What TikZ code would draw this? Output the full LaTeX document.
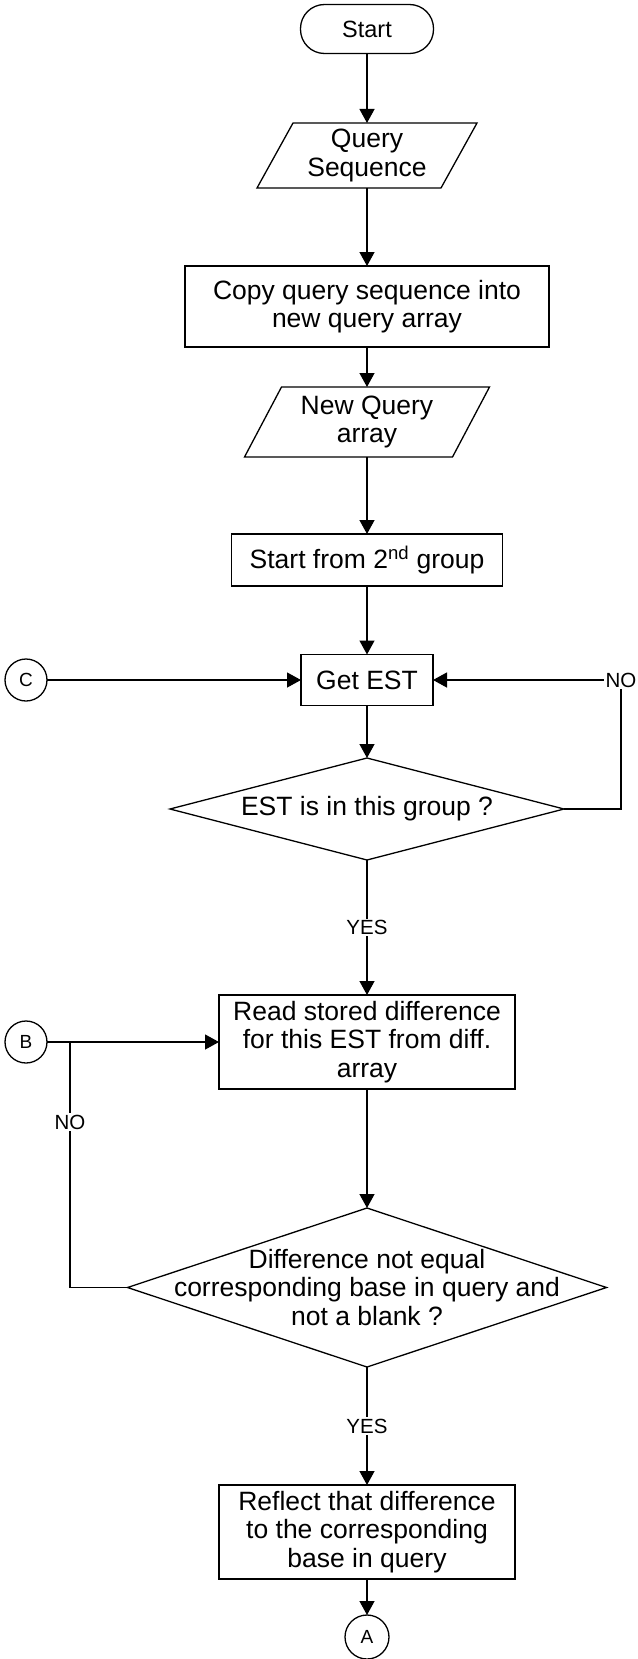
\documentclass[tikz,border=0pt]{standalone}
\usepackage{fontspec}
\setmainfont{Liberation Sans}
\usetikzlibrary{arrows.meta,shapes.geometric}
\begin{document}
\begin{tikzpicture}[x=1pt,y=-1pt,
  line width=1.3pt,
  every node/.style={inner sep=0pt, outer sep=0pt},
  txt/.style={font=\fontsize{26.5}{28.5}\selectfont, align=center},
  procbox/.style={txt, draw, rectangle},
  iobox/.style={txt, rectangle},
  term/.style={draw, rectangle, rounded corners=24pt, font=\fontsize{23.5}{26}\selectfont},
  decision/.style={draw, diamond},
  conn/.style={draw, circle, minimum size=42pt, font=\fontsize{19}{22}\selectfont},
  arr/.style={-{Triangle[length=14pt,width=15pt]}},
  lbl/.style={fill=white, font=\fontsize{20.5}{22}\selectfont, inner sep=1.5pt},
]
\useasboundingbox (0,0) rectangle (637,1659);

% main column
\node[term, minimum width=133pt, minimum height=49pt] (start) at (367,29) {Start};

\node[iobox, minimum width=220pt, minimum height=65pt] (qseq) at (367,155.5) {Query\\Sequence};
\draw ([xshift=36pt]qseq.north west) -- (qseq.north east)
  -- ([xshift=-36pt]qseq.south east) -- (qseq.south west) -- cycle;

\node[procbox, minimum width=364pt, minimum height=81pt] (copy) at (367,306.5)
  {Copy query sequence into\\new query array};

\node[iobox, minimum width=245pt, minimum height=70pt] (nq) at (367,422) {New Query\\array};
\draw ([xshift=37pt]nq.north west) -- (nq.north east)
  -- ([xshift=-37pt]nq.south east) -- (nq.south west) -- cycle;

\node[procbox, minimum width=271pt, minimum height=52pt] (s2) at (367,560)
  {Start from 2\textsuperscript{nd} group};

\node[procbox, minimum width=132pt, minimum height=51pt] (get) at (367,680) {Get EST};

\node[decision, minimum width=394pt, minimum height=102pt] (d1) at (367,809) {};
\node[txt] (d1t) at (d1) {EST is in this group ?};

\node[procbox, minimum width=296pt, minimum height=94pt] (read) at (367,1042)
  {Read stored difference\\for this EST from diff.\\array};

\node[decision, minimum width=479pt, minimum height=159pt] (d2) at (367,1287.5) {};
\node[txt] (d2t) at (d2) {Difference not equal\\corresponding base in query and\\not a blank ?};

\node[procbox, minimum width=296pt, minimum height=94pt] (refl) at (367,1532)
  {Reflect that difference\\to the corresponding\\base in query};

% connectors (off-page)
\node[conn] (C) at (26,680) {C};
\node[conn] (B) at (26,1042) {B};
\node[conn, minimum size=44pt] (A) at (367,1637) {A};

\coordinate (nocorner) at (621,680);
\coordinate (bjoin) at (70,1042);

% flow lines
\draw[arr] (start) -- (qseq);
\draw[arr] (qseq) -- (copy);
\draw[arr] (copy) -- (nq);
\draw[arr] (nq) -- (s2);
\draw[arr] (s2) -- (get);
\draw[arr] (get) -- (d1);
\draw[arr] (C) -- (get);
\draw[arr] (d1.east) -| (nocorner) -- (get.east);
\node[lbl] (no1) at (nocorner) {NO};
\draw[arr] (d1) -- node[lbl] (yes1) {YES} (read);
\draw[arr] (B) -- (read);
\draw (d2.west) -| (bjoin);
\node[lbl] (no2) at (70,1122) {NO};
\draw[arr] (read) -- (d2);
\draw[arr] (d2) -- node[lbl] (yes2) {YES} (refl);
\draw[arr] (refl) -- (A);
\end{tikzpicture}
\end{document}
